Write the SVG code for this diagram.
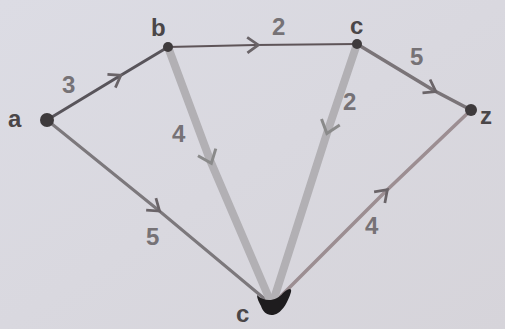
<svg xmlns="http://www.w3.org/2000/svg" width="505" height="329" viewBox="0 0 505 329">
<defs>
<linearGradient id="bg" x1="0" y1="0" x2="1" y2="1">
<stop offset="0" stop-color="#dcdce4"/>
<stop offset="1" stop-color="#d6d4da"/>
</linearGradient>
<marker id="chev" viewBox="-10 -10 20 20" markerWidth="22" markerHeight="22" markerUnits="userSpaceOnUse" orient="auto" refX="0" refY="0">
<path d="M-7,-7 L3,0 L-7,7" fill="none" stroke="#6a6468" stroke-width="2.5"/>
</marker>
<marker id="chevL" viewBox="-10 -10 20 20" markerWidth="24" markerHeight="24" markerUnits="userSpaceOnUse" orient="auto" refX="0" refY="0">
<path d="M-7,-8 L3,0 L-7,8" fill="none" stroke="#8a8a8a" stroke-width="2.5"/>
</marker>
</defs>
<style>
.e{fill:none;marker-mid:url(#chev)}
.t{font-family:"Liberation Sans",Arial,sans-serif;font-weight:bold;font-size:24px;fill:#767276}
.n{font-family:"Liberation Sans",Arial,sans-serif;font-weight:bold;font-size:24px;fill:#4a4648}
.dot{fill:#3e3a3c}
</style>
<rect width="505" height="329" fill="url(#bg)"/>
<g id="connectors">
<polyline class="e" points="47,120 118,77 168,47" stroke="#58545a" stroke-width="3"/>
<polyline class="e" points="168,47 255,45 357,44" stroke="#5e5458" stroke-width="2.2"/>
<polyline class="e" points="357,44 433,90 471,110" stroke="#7a7478" stroke-width="3.5"/>
<polyline class="e" points="47,120 157,209 272,305" stroke="#7c787c" stroke-width="3"/>
<polyline class="e" points="272,305 385,192 471,110" stroke="#9c8e92" stroke-width="3.5"/>
<polyline points="168,47 210,160 272,305" fill="none" stroke="#b2b0b4" stroke-width="8" marker-mid="url(#chevL)"/>
<polyline points="357,44 328,130 272,305" fill="none" stroke="#b2b0b4" stroke-width="8" marker-mid="url(#chevL)"/>
<text class="t" x="62" y="93">3</text>
<text class="t" x="272" y="35">2</text>
<text class="t" x="410" y="65">5</text>
<text class="t" x="172" y="142">4</text>
<text class="t" x="343" y="110">2</text>
<text class="t" x="146" y="245">5</text>
<text class="t" x="365" y="234">4</text>
</g>
<g id="node-a"><circle class="dot" cx="47" cy="120" r="7"/><text class="n" x="8" y="127">a</text></g>
<g id="node-b"><circle class="dot" cx="168" cy="47" r="5"/><text class="n" x="151" y="36" fill="#5a5658">b</text></g>
<g id="node-c"><circle class="dot" cx="357" cy="44" r="5"/><text class="n" x="350" y="34" fill="#6a6668">c</text></g>
<g id="node-z"><circle class="dot" cx="471" cy="110" r="6"/><text class="n" x="480" y="124" fill="#6a6668">z</text></g>
<g id="node-d"><path d="M257,295 C264,302 276,302 283,293 C288,289 292,287 291,292 C288,302 283,310 278,313 C270,318 263,313 261,306 C259,302 257,299 257,295 Z" fill="#1e1c1e"/><text class="n" x="236" y="322" font-size="18" fill="#2a2a2c">c</text></g>
</svg>
